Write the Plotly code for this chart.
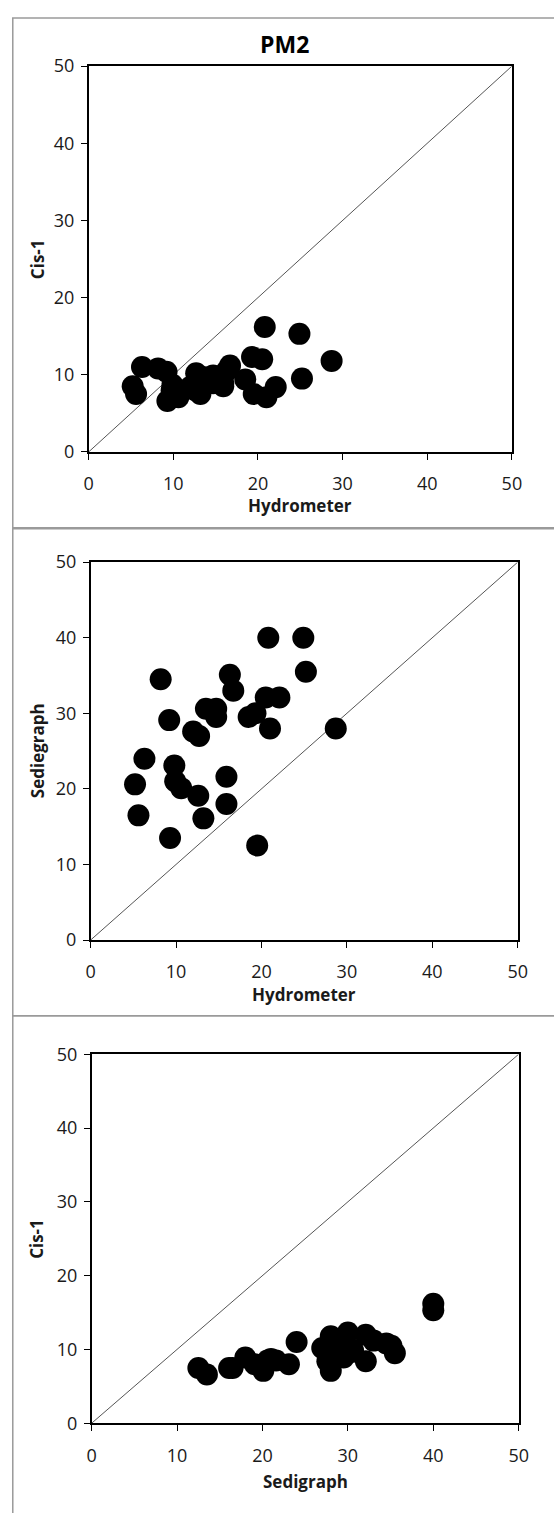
import plotly.graph_objects as go

# ---- data ----
hydrometer = [20.8, 24.9, 25.2, 8.2, 16.3, 16.7, 20.5, 22.1, 13.5, 14.7,
              14.7, 18.5, 19.3, 9.2, 21.0, 28.7, 12.0, 12.7, 6.3, 9.8,
              15.9, 5.2, 9.9, 10.6, 12.6, 15.9, 5.6, 13.2, 9.3, 19.5]
sedigraph = [40.0, 40.0, 35.5, 34.5, 35.1, 33.0, 32.1, 32.1, 30.6, 30.6,
             29.5, 29.5, 30.0, 29.1, 28.0, 28.0, 27.6, 27.0, 24.0, 23.1,
             21.6, 20.6, 21.0, 20.1, 19.1, 18.0, 16.5, 16.1, 13.5, 12.5]
cis1 = [16.2, 15.3, 9.5, 10.8, 10.5, 11.2, 12.0, 8.4, 9.7, 9.9,
        8.9, 9.4, 12.3, 10.4, 7.1, 11.8, 8.4, 10.2, 11.0, 8.0,
        8.5, 8.5, 8.7, 7.1, 8.0, 8.9, 7.5, 7.5, 6.6, 7.5]
one_to_one = [0, 50]
tick_values = [0, 10, 20, 30, 40, 50]

W, H = 554, 1513
FONT = "Open Sans"


def px_x(p):
    return p / W


def px_y(p):
    return 1 - p / H


panels = [
    # (x data, y data, x title, y title, plot px box l, r, t, b, x-title y)
    (hydrometer, cis1, "Hydrometer", "Cis-1", 86, 521, 54, 446, 500),
    (hydrometer, sedigraph, "Hydrometer", "Sediegraph", 88, 527, 558, 942, 997),
    (sedigraph, cis1, "Sedigraph", "Cis-1", 89, 528, 1058, 1433, 1492),
]

fig = go.Figure()
annotations = []
layout_axes = {}

for i, (xd, yd, xt, yt, l, r, t, b, xty) in enumerate(panels, start=1):
    sfx = "" if i == 1 else str(i)
    xa, ya = "x" + sfx, "y" + sfx
    fig.add_trace(go.Scatter(x=one_to_one, y=one_to_one, mode="lines",
                             line=dict(color="#555555", width=1),
                             xaxis=xa, yaxis=ya, hoverinfo="skip",
                             showlegend=False))
    fig.add_trace(go.Scatter(x=xd, y=yd, mode="markers",
                             marker=dict(color="black", size=22,
                                         line=dict(width=0)),
                             xaxis=xa, yaxis=ya, showlegend=False))
    common = dict(range=[0, 50], tickvals=tick_values, ticks="outside",
                  ticklen=6, tickcolor="black", tickwidth=1.2,
                  showline=True, linecolor="black", linewidth=1.5,
                  mirror=True, showgrid=False, zeroline=False,
                  tickfont=dict(family=FONT, size=18, color="#1a1a1a"),
                  fixedrange=True)
    layout_axes["xaxis" + sfx] = dict(common, domain=[px_x(l), px_x(r)],
                                      anchor=ya, ticklabelstandoff=9)
    layout_axes["yaxis" + sfx] = dict(common, domain=[px_y(b), px_y(t)],
                                      anchor=xa, ticklabelstandoff=3)
    annotations.append(dict(text="<b>%s</b>" % xt, xref="paper", yref="paper",
                            x=px_x((l + r) / 2), y=px_y(xty),
                            showarrow=False,
                            font=dict(family=FONT, size=17, color="#1a1a1a"),
                            xanchor="center", yanchor="middle"))
    annotations.append(dict(text="<b>%s</b>" % yt, xref="paper", yref="paper",
                            x=px_x(33), y=px_y((t + b) / 2), textangle=-90,
                            showarrow=False,
                            font=dict(family=FONT, size=17, color="#1a1a1a"),
                            xanchor="center", yanchor="middle"))

annotations.append(dict(text="<b>PM2</b>", xref="paper", yref="paper",
                        x=px_x(287), y=px_y(31), showarrow=False,
                        font=dict(family=FONT, size=23, color="black"),
                        xanchor="center", yanchor="middle"))

frames = [(8, 5, 570, 523), (8, 524, 570, 1019), (8, 1019, 570, 1530)]
shapes = [dict(type="rect", xref="paper", yref="paper",
               x0=px_x(x0), x1=px_x(x1), y0=px_y(y1), y1=px_y(y0),
               line=dict(color="#9a9a9a", width=1.5), fillcolor="rgba(0,0,0,0)",
               layer="below")
          for (x0, y0, x1, y1) in frames]

fig.update_layout(width=W, height=H, margin=dict(l=0, r=0, t=0, b=0),
                  paper_bgcolor="white", plot_bgcolor="white",
                  annotations=annotations, shapes=shapes, showlegend=False,
                  **layout_axes)

fig.write_html("out.html", config={"displayModeBar": False})
